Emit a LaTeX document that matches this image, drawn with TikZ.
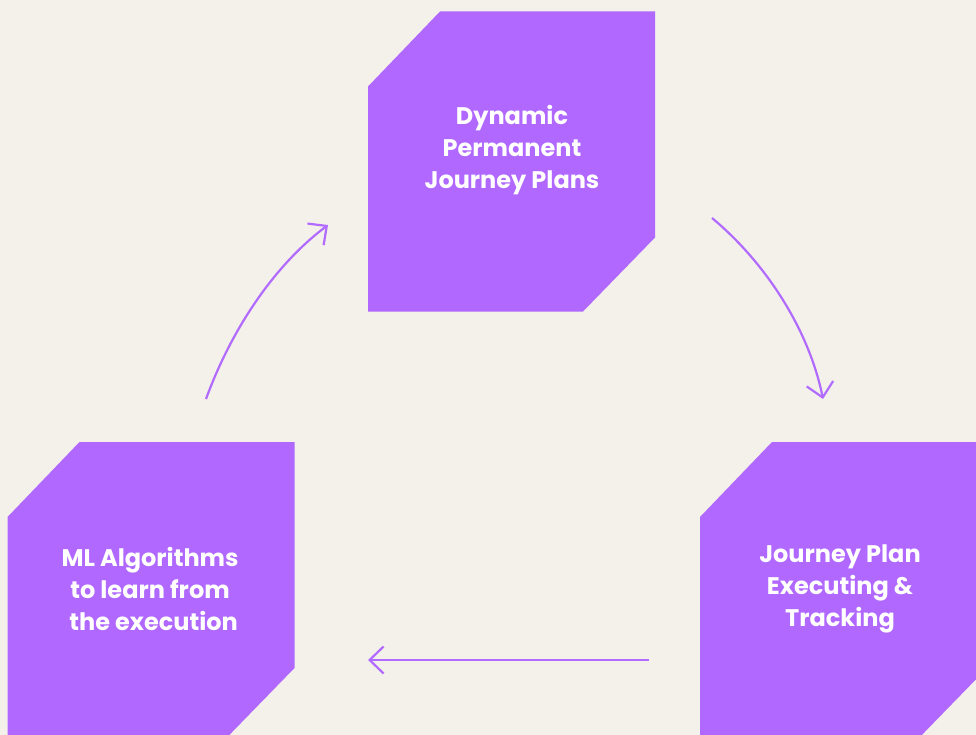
\documentclass[tikz,border=0pt]{standalone}
\usepackage{fontspec}
\setmainfont{Poppins}
\usetikzlibrary{arrows.meta}
\definecolor{bg}{HTML}{F4F0EA}
\definecolor{boxc}{HTML}{B068FF}
\definecolor{arrc}{HTML}{B26BFF}
\tikzset{
  chbox/.style={draw=none, inner sep=0pt, minimum width=287pt, minimum height=300pt,
    path picture={
      \fill[boxc] ([xshift=72pt]path picture bounding box.north west)
        -- (path picture bounding box.north east)
        -- ([yshift=74pt]path picture bounding box.south east)
        -- ([xshift=-72pt]path picture bounding box.south east)
        -- (path picture bounding box.south west)
        -- ([yshift=-75pt]path picture bounding box.north west) -- cycle;
    }},
  lbl/.style={text=white, font=\bfseries\fontsize{24}{32}\selectfont, align=center, inner sep=0pt},
  flow/.style={draw=arrc, line width=2.2pt, -{Straight Barb[length=14pt,width=27pt]}}
}
\begin{document}
\begin{tikzpicture}[x=1pt,y=-1pt]
\fill[bg] (0,0) rectangle (976,735);
\useasboundingbox (0,0) rectangle (976,735);
\clip (0,0) rectangle (976,735);
\node[chbox] (top) at (511.5,161.5) {};
\node[chbox] (right) at (843.5,592) {};
\node[chbox] (left) at (151,592) {};
\node[lbl] (ttop) at (512,150) {Dynamic\\Permanent\\Journey Plans};
\node[lbl] (tright) at (840,589) {Journey Plan\\Executing \&\\Tracking};
\node[lbl] (tleft) at (150,589) {ML Algorithms\\to learn from\\\hspace*{0.3em}the execution};
\coordinate (a1s) at (206,399);
\coordinate (a1e) at (328,225);
\coordinate (a2s) at (712,218);
\coordinate (a2e) at (823,399);
\coordinate (a3s) at (649,660);
\coordinate (a3e) at (368,660);
\draw[flow] (a1s) .. controls (230,333) and (272,267) .. (a1e);
\draw[flow] (a2s) .. controls (766,263) and (809,330) .. (a2e);
\draw[flow] (a3s) -- (a3e);
\end{tikzpicture}
\end{document}
